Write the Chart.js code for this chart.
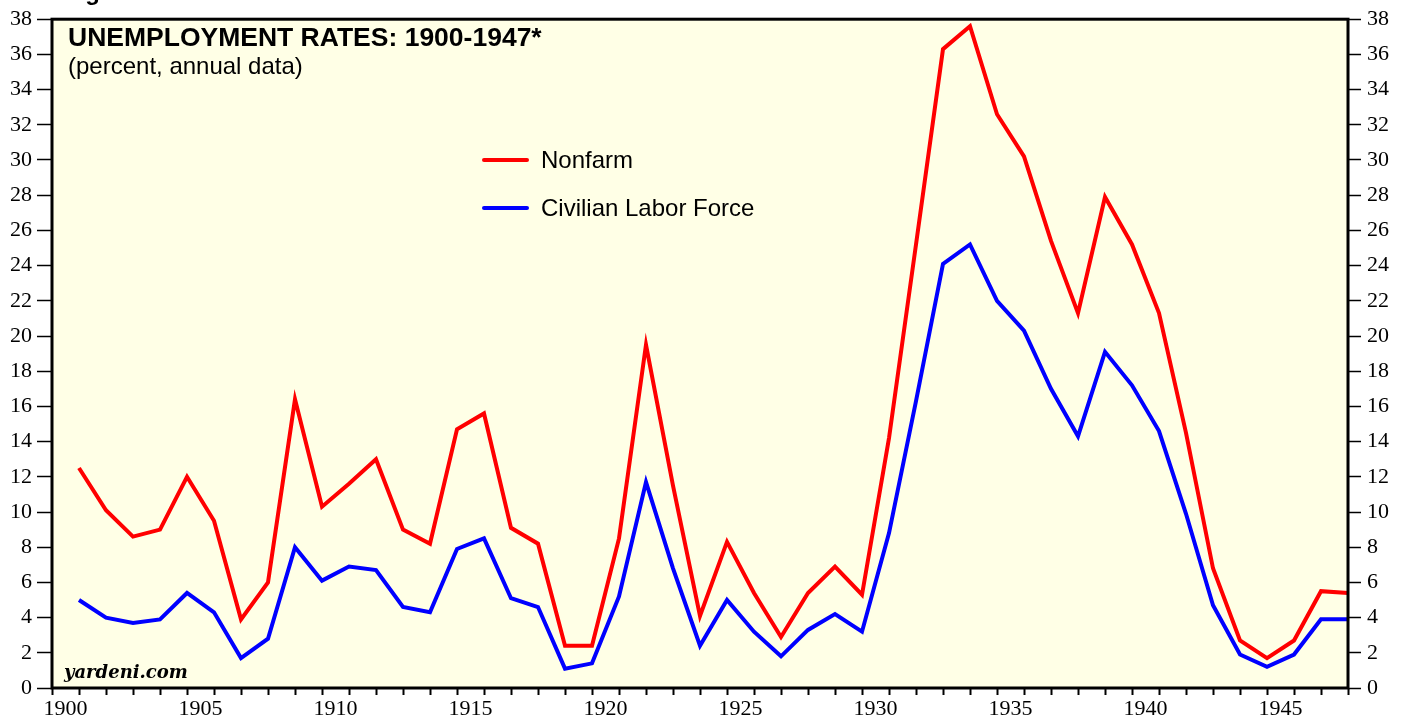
<!DOCTYPE html>
<html>
<head>
<meta charset="utf-8">
<script src="https://cdn.jsdelivr.net/npm/chart.js@4.4.1/dist/chart.umd.min.js"></script>
<style>
  html, body { margin: 0; padding: 0; background: #fff; }
  canvas { display: block; }
</style>
</head>
<body>
<canvas id="unemployment" width="1407" height="719"></canvas>
<script>
// annual data, 1900-1947 (points sit at the end of each year)
const years = [
  1900, 1901, 1902, 1903, 1904, 1905, 1906, 1907, 1908, 1909,
  1910, 1911, 1912, 1913, 1914, 1915, 1916, 1917, 1918, 1919,
  1920, 1921, 1922, 1923, 1924, 1925, 1926, 1927, 1928, 1929,
  1930, 1931, 1932, 1933, 1934, 1935, 1936, 1937, 1938, 1939,
  1940, 1941, 1942, 1943, 1944, 1945, 1946, 1947
];
const nonfarm = [
  12.5, 10.1, 8.6, 9.0, 12.0, 9.5, 3.9, 6.0, 16.4, 10.3,
  11.6, 13.0, 9.0, 8.2, 14.7, 15.6, 9.1, 8.2, 2.4, 2.4,
  8.5, 19.5, 11.5, 4.1, 8.3, 5.4, 2.9, 5.4, 6.9, 5.3,
  14.2, 25.2, 36.3, 37.6, 32.6, 30.2, 25.4, 21.3, 27.9, 25.2,
  21.3, 14.5, 6.8, 2.7, 1.7, 2.7, 5.5, 5.4
];
const civilian = [
  5.0, 4.0, 3.7, 3.9, 5.4, 4.3, 1.7, 2.8, 8.0, 6.1,
  6.9, 6.7, 4.6, 4.3, 7.9, 8.5, 5.1, 4.6, 1.1, 1.4,
  5.2, 11.7, 6.8, 2.4, 5.0, 3.2, 1.8, 3.3, 4.2, 3.2,
  8.8, 16.3, 24.1, 25.2, 22.0, 20.3, 17.0, 14.3, 19.1, 17.2,
  14.6, 9.9, 4.7, 1.9, 1.2, 1.9, 3.9, 3.9
];
const xLabelYears = [1900, 1905, 1910, 1915, 1920, 1925, 1930, 1935, 1940, 1945];
const seriesNames = ['Nonfarm', 'Civilian Labor Force'];
const seriesColors = ['#ff0000', '#0000ff'];

const plotBg = 'rgb(255,255,230)';
const sans = '"Liberation Sans", Arial, Helvetica, sans-serif';
const serif = '"Liberation Serif", "Times New Roman", serif';

// year y is plotted at the end of the year
const toPoints = (vals) => vals.map((v, i) => ({ x: years[i] + 1, y: v }));

// background, frame, titles and the legend inside the plot
const chartDecor = {
  id: 'chartDecor',
  beforeDraw(chart) {
    const { ctx, chartArea: a } = chart;
    ctx.save();
    ctx.fillStyle = plotBg;
    ctx.fillRect(a.left, a.top, a.right - a.left, a.bottom - a.top);
    ctx.restore();
  },
  afterDraw(chart) {
    const { ctx, chartArea: a } = chart;
    ctx.save();

    // frame
    ctx.strokeStyle = '#000';
    ctx.lineWidth = 3;
    ctx.strokeRect(a.left, a.top, a.right - a.left, a.bottom - a.top);

    // cut-off figure caption above the plot
    ctx.fillStyle = '#000';
    ctx.textBaseline = 'alphabetic';
    ctx.font = 'bold 24px ' + sans;
    ctx.fillText('Figure 1.', 64, 0);

    // title
    ctx.font = 'bold 26.5px ' + sans;
    ctx.fillText('UNEMPLOYMENT RATES: 1900-1947*', a.left + 16, 46);
    ctx.font = '24px ' + sans;
    ctx.fillText('(percent, annual data)', a.left + 16, 74);

    // legend
    const legendY = [160, 208];
    ctx.lineWidth = 4;
    ctx.lineCap = 'round';
    ctx.font = '24px ' + sans;
    ctx.textBaseline = 'middle';
    seriesNames.forEach((name, i) => {
      ctx.strokeStyle = seriesColors[i];
      ctx.beginPath();
      ctx.moveTo(484, legendY[i]);
      ctx.lineTo(527, legendY[i]);
      ctx.stroke();
      ctx.fillStyle = '#000';
      ctx.fillText(name, 541, legendY[i] + 1);
    });

    // source
    ctx.textBaseline = 'alphabetic';
    ctx.font = 'italic bold 18px "DejaVu Serif", serif';
    ctx.fillText('yardeni.com', 64, 678);
    ctx.restore();
  }
};

const tickFont = { family: serif, size: 22 };

new Chart(document.getElementById('unemployment'), {
  type: 'line',
  data: {
    datasets: [
      {
        label: seriesNames[0],
        data: toPoints(nonfarm),
        borderColor: seriesColors[0],
        borderWidth: 4,
        pointRadius: 0,
        tension: 0,
        borderJoinStyle: 'miter',
        yAxisID: 'y'
      },
      {
        label: seriesNames[1],
        data: toPoints(civilian),
        borderColor: seriesColors[1],
        borderWidth: 4,
        pointRadius: 0,
        tension: 0,
        borderJoinStyle: 'miter',
        yAxisID: 'y'
      }
    ]
  },
  options: {
    responsive: false,
    animation: false,
    layout: { padding: { top: 16, left: 0, right: 0, bottom: 0 } },
    plugins: {
      legend: { display: false },
      tooltip: { enabled: false }
    },
    scales: {
      x: {
        type: 'linear',
        min: 1900,
        max: 1948,
        afterFit: (axis) => { axis.height = 31; },
        border: { display: false },
        grid: { drawOnChartArea: false, drawTicks: true, tickLength: 7, tickWidth: 2, color: '#000' },
        ticks: {
          stepSize: 1,
          maxTicksLimit: 100,
          autoSkip: false,
          maxRotation: 0,
          labelOffset: 13.5,
          padding: 1,
          color: '#000',
          font: tickFont,
          callback: (v) => xLabelYears.includes(v) ? String(v) : ''
        }
      },
      y: {
        position: 'left',
        min: 0,
        max: 38,
        afterFit: (axis) => { axis.width = 52; },
        border: { display: false },
        grid: { drawOnChartArea: false, drawTicks: true, tickLength: 15, tickWidth: 1.5, color: '#000' },
        ticks: { stepSize: 2, padding: 5, color: '#000', font: tickFont }
      },
      y2: {
        position: 'right',
        min: 0,
        max: 38,
        afterFit: (axis) => { axis.width = 59; },
        border: { display: false },
        grid: { drawOnChartArea: false, drawTicks: true, tickLength: 13, tickWidth: 1.5, color: '#000' },
        ticks: { stepSize: 2, padding: 6, color: '#000', font: tickFont }
      }
    }
  },
  plugins: [chartDecor]
});
</script>
</body>
</html>
